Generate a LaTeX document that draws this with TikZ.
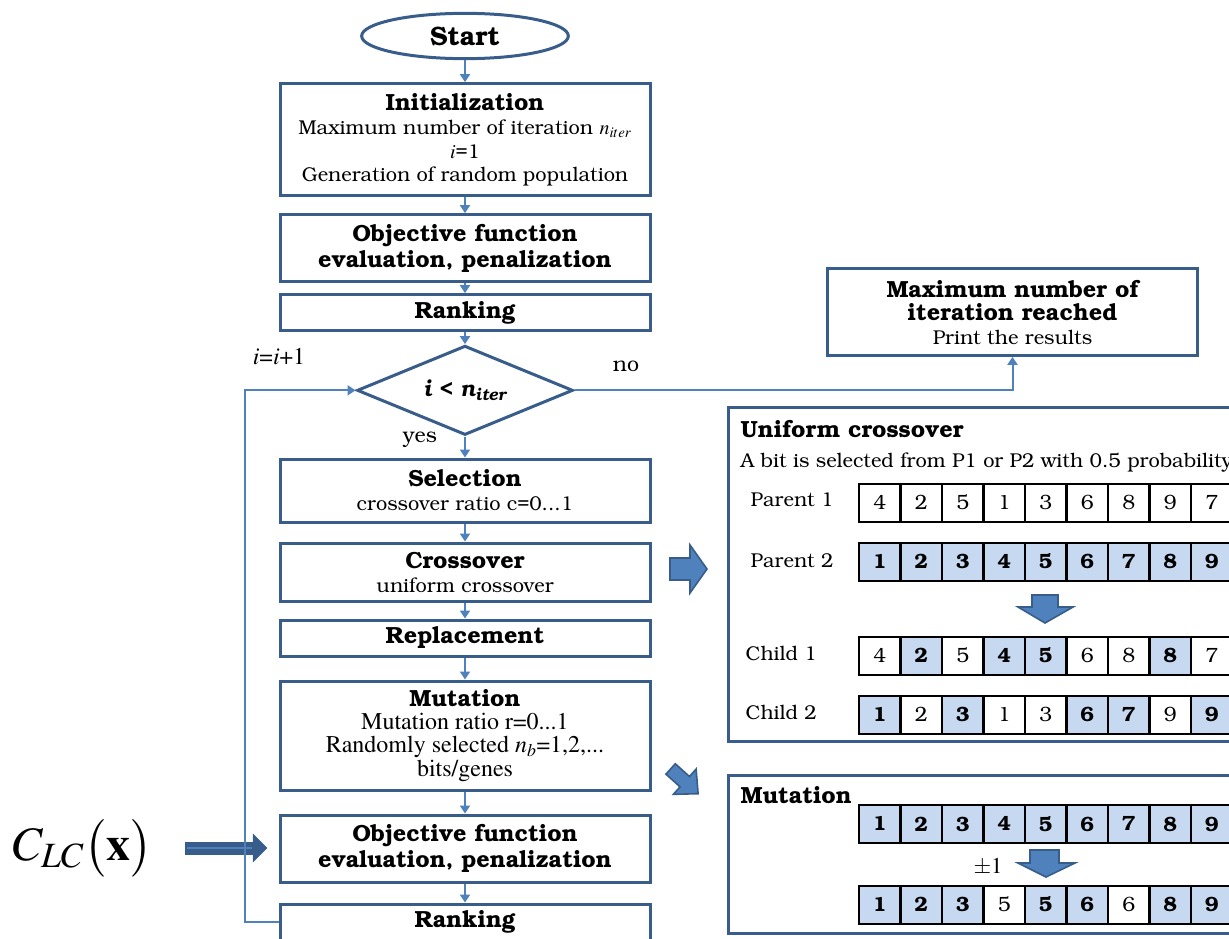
\documentclass[tikz,border=0pt]{standalone}
\usepackage{mathptmx}
\usepackage[T1]{fontenc}
\usepackage{bookman}
\usetikzlibrary{positioning, shapes.geometric, arrows.meta}

\definecolor{boxblue}{RGB}{56,93,138}
\definecolor{lineblue}{RGB}{79,129,189}
\definecolor{cellblue}{RGB}{198,217,241}

\newcommand{\txt}{\fontsize{15}{17.5}\selectfont}
\newcommand{\hd}{\fontsize{17.5}{19.5}\selectfont\bfseries}
\newcommand{\tms}{\fontfamily{ptm}\fontsize{18}{17.5}\selectfont}

\tikzset{
  block/.style={draw=boxblue, line width=2.25pt, minimum width=277.5pt, align=center, inner sep=1pt, font=\txt},
  flow/.style={draw=lineblue, line width=1.5pt, -{Triangle[width=7.5pt,length=6pt]}},
  cell0/.style={draw, line width=1.5pt, minimum width=31.1pt, inner sep=0pt, font=\fontsize{15.5}{17}\selectfont},
  cell1/.style={cell0, fill=cellblue, font=\fontsize{15.5}{17}\selectfont\bfseries},
  fatarrow/.style={fill=lineblue, draw=boxblue, line width=1.2pt, line join=miter},
}

\begin{document}
\begin{tikzpicture}[x=0.75pt, y=-0.75pt]
\clip (0,0) rectangle (1229,939);

% main loop
\node[ellipse, draw=boxblue, line width=2.25pt, minimum width=155pt, minimum height=34pt, font=\fontsize{20}{22}\selectfont\bfseries] (start) at (465,36) {Start};
\node[block, minimum height=84pt, below=16.5pt of start] (init) {{\hd Initialization}\\[1pt]Maximum number of iteration $n_{iter}$\\$i$=1\\Generation of random population};
\node[block, font=\hd, minimum height=50.25pt, below=12pt of init] (obj) {Objective function\\evaluation, penalization};
\node[block, font=\hd, minimum height=27pt, below=7.5pt of obj] (rank) {Ranking};
\node[diamond, draw=boxblue, line width=2.25pt, aspect=2.4, minimum width=162pt, minimum height=67pt, inner sep=0pt, font=\fontsize{16.5}{18}\selectfont\bfseries\itshape, below=9pt of rank] (test) {i < n\textsubscript{iter}};
\node[block, minimum height=47.25pt, below=15.75pt of test] (sel) {{\hd Selection}\\crossover ratio c=0...1};
\node[block, minimum height=43.5pt, below=13.5pt of sel] (cross) {{\hd Crossover}\\uniform crossover};
\node[block, font=\hd, minimum height=27pt, below=12pt of cross] (repl) {Replacement};
\node[block, minimum height=81.75pt, below=16.5pt of repl] (mut) {{\hd Mutation}\\{\tms Mutation ratio r=0...1}\\{\tms Randomly selected \textit{n}\textsubscript{\textit{b}}=1,2,...}\\{\tms bits/genes}};
\node[block, font=\hd, minimum height=50.25pt, below=16.5pt of mut] (obj2) {Objective function\\evaluation, penalization};
\node[block, font=\hd, minimum height=27pt, below=14.25pt of obj2] (rank2) {Ranking};

\draw[flow] (start) -- (init);
\draw[flow] (init) -- (obj);
\draw[flow] (obj) -- (rank);
\draw[flow] (rank) -- (test);
\draw[flow] (test) -- (sel);
\draw[flow] (sel) -- (cross);
\draw[flow] (cross) -- (repl);
\draw[flow] (repl) -- (mut);
\draw[flow] (mut) -- (obj2);
\draw[flow] (obj2) -- (rank2);

% penalized cost coming in
\node[anchor=east, font=\fontsize{36}{40}\selectfont] (clc) at (157,848) {$C_{LC}\bigl(\mathbf{x}\bigr)$};
\draw[boxblue, line width=9.75pt, -{Triangle[width=21pt,length=11pt]}, shorten <=21pt, shorten >=8.25pt] (clc.east) -- (clc.east -| obj2.west);
\draw[lineblue, line width=1.2pt, shorten <=22.5pt, shorten >=20pt] (clc.east) -- (clc.east -| obj2.west);

% end of run
\node[block, minimum height=65pt] (maxbox) at (1012.5,312) {{\hd Maximum number of}\\{\hd iteration reached}\\Print the results};

\draw[flow] (rank2.west) -- ++(-34,0) |- (test.west);
\draw[flow] (test.east) -| (maxbox.south);
\node[font=\fontfamily{ptm}\fontsize{18}{20}\selectfont] (incr) at (279,357) {\textit{i}=\textit{i}+1};
\node[font=\fontsize{16}{18}\selectfont] (nolbl) at (626,366) {no};
\node[font=\fontsize{16}{18}\selectfont] (yeslbl) at (420,440) {yes};

% uniform crossover panel
\node[draw=boxblue, line width=2.25pt, anchor=north west, minimum width=420pt, minimum height=250.5pt, inner sep=0pt] (ucbox) at (727,406) {};
\node[anchor=west, font=\hd] (uctitle) at (736,429) {Uniform crossover};
\node[anchor=west, font=\txt] (ucnote) at (736,462) {A bit is selected from P1 or P2 with 0.5 probability};
\node[anchor=west, font=\txt] (p1lbl) at (746,500) {Parent 1};
\node[anchor=west, font=\txt] (p2lbl) at (746,561) {Parent 2};
\node[anchor=west, font=\txt] (c1lbl) at (741,654) {Child 1};
\node[anchor=west, font=\txt] (c2lbl) at (741,713) {Child 2};

% mutation panel
\node[draw=boxblue, line width=2.25pt, anchor=north west, minimum width=420pt, minimum height=118.5pt, inner sep=0pt] (mutbox) at (727,774) {};
\node[anchor=west, font=\hd] (muttitle) at (736,795) {Mutation};
\node[font=\fontfamily{ptm}\fontsize{17}{18}\selectfont] (pm) at (988,867) {$\pm$1};

% gene strings, 1 = taken from the blue string
\foreach \r/\y/\h/\vals in {
    p1/502.5/28.5/{4/0,2/0,5/0,1/0,3/0,6/0,8/0,9/0,7/0},
    p2/561.5/28.5/{1/1,2/1,3/1,4/1,5/1,6/1,7/1,8/1,9/1},
    c1/655.5/28.5/{4/0,2/1,5/0,4/1,5/1,6/0,8/0,8/1,7/0},
    c2/714.5/28.5/{1/1,2/0,3/1,1/0,3/0,6/1,7/1,9/0,9/1},
    m1/824/28.5/{1/1,2/1,3/1,4/1,5/1,6/1,7/1,8/1,9/1},
    m2/904.5/28.5/{1/1,2/1,3/1,5/0,5/1,6/1,6/0,8/1,9/1}}
  \foreach \v/\b [count=\k from 0] in \vals
    \node[cell\b, minimum height=\h pt] (\r-\k) at ({879.75+41.5*\k},\y) {\v};

% block arrows
\draw[fatarrow] (670,558) -- (690,558) -- (690,545) -- (707,569) -- (690,593) -- (690,580) -- (670,580) -- cycle;
\draw[fatarrow, shift={(684,781)}, rotate=-42] (-18,-7) -- (1,-7) -- (1,-17) -- (19,0) -- (1,17) -- (1,7) -- (-18,7) -- cycle;
\draw[fatarrow] (1032,595) -- (1058,595) -- (1058,607) -- (1073,607) -- (1045,623) -- (1018,607) -- (1032,607) -- cycle;
\draw[fatarrow] (1030,850) -- (1059,850) -- (1059,863) -- (1075,863) -- (1046,877) -- (1018,863) -- (1030,863) -- cycle;
\end{tikzpicture}
\end{document}
